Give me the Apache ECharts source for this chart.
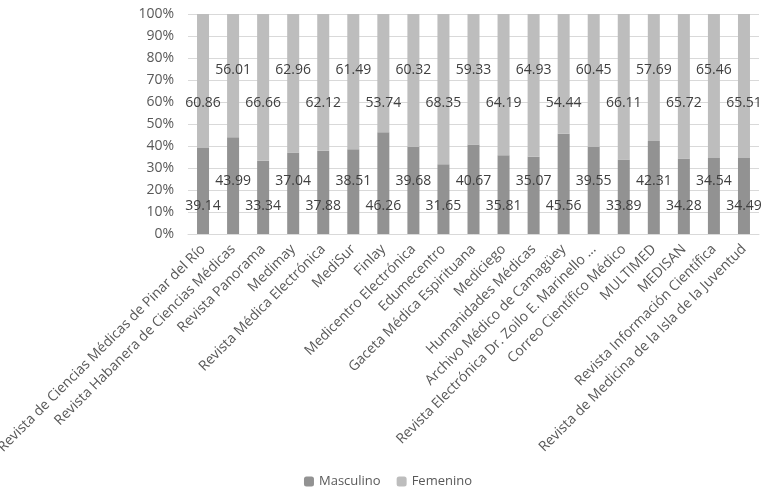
<!DOCTYPE html>
<html>
<head>
<meta charset="utf-8">
<script src="https://cdn.jsdelivr.net/npm/echarts@6/dist/echarts.min.js"></script>
<style>html,body{margin:0;padding:0;background:#fff;}#c{width:776px;height:500px;}</style>
</head>
<body>
<div id="c"></div>
<script>
const categories = [
  "Revista de Ciencias Médicas de Pinar del Río",
  "Revista Habanera de Ciencias Médicas",
  "Revista Panorama",
  "Medimay",
  "Revista Médica Electrónica",
  "MediSur",
  "Finlay",
  "Medicentro Electrónica",
  "Edumecentro",
  "Gaceta Médica Espirituana",
  "Mediciego",
  "Humanidades Médicas",
  "Archivo Médico de Camagüey",
  "Revista Electrónica Dr. Zoilo E. Marinello ...",
  "Correo Científico Médico",
  "MULTIMED",
  "MEDISAN",
  "Revista Información Científica",
  "Revista de Medicina de la Isla de la Juventud"
];
const masculino = [39.14,43.99,33.34,37.04,37.88,38.51,46.26,39.68,31.65,40.67,35.81,35.07,45.56,39.55,33.89,42.31,34.28,34.54,34.49];
const femenino  = [60.86,56.01,66.66,62.96,62.12,61.49,53.74,60.32,68.35,59.33,64.19,64.93,54.44,60.45,66.11,57.69,65.72,65.46,65.51];
const yTicks = [0,10,20,30,40,50,60,70,80,90,100];

const FONT = "'Open Sans', sans-serif";
const labelBase = {show:true, color:'#404040', fontFamily:FONT, fontSize:14, formatter:p=>p.value.toFixed(2)};

const mData = masculino.map((v,i)=>({value:v, label:{position:'insideBottom', distance: i%2===0 ? 21 : 46}}));
const fData = femenino.map((v,i)=>({value:v, label:{position:'insideTop', distance: i%2===0 ? 82 : 49}}));

const chart = echarts.init(document.getElementById('c'));
chart.setOption({
  animation:false,
  textStyle:{fontFamily:FONT},
  grid:{left:188, right:17, top:14, bottom:266, containLabel:false, outerBoundsMode:'none'},
  legend:{
    bottom:7, left:'center', itemWidth:10, itemHeight:10, itemGap:16,
    textStyle:{color:'#595959', fontSize:13, fontFamily:FONT},
    data:['Masculino','Femenino']
  },
  xAxis:{
    type:'category', data:categories,
    axisTick:{show:false},
    axisLine:{show:true, lineStyle:{color:'#d9d9d9'}},
    axisLabel:{interval:0, rotate:45, color:'#595959', fontSize:14, fontFamily:FONT, margin:13}
  },
  yAxis:{
    type:'value', min:yTicks[0], max:yTicks[yTicks.length-1], interval:10,
    axisLine:{show:false}, axisTick:{show:false},
    splitLine:{lineStyle:{color:'#d9d9d9'}},
    axisLabel:{formatter:'{value}%', color:'#595959', fontSize:14, fontFamily:FONT, margin:14}
  },
  series:[
    {name:'Masculino', type:'bar', stack:'t', barWidth:12, data:mData,
     itemStyle:{color:'#929292'}, label:labelBase},
    {name:'Femenino', type:'bar', stack:'t', barWidth:12, data:fData,
     itemStyle:{color:'#bdbdbd'}, label:labelBase}
  ]
});
</script>
</body>
</html>
